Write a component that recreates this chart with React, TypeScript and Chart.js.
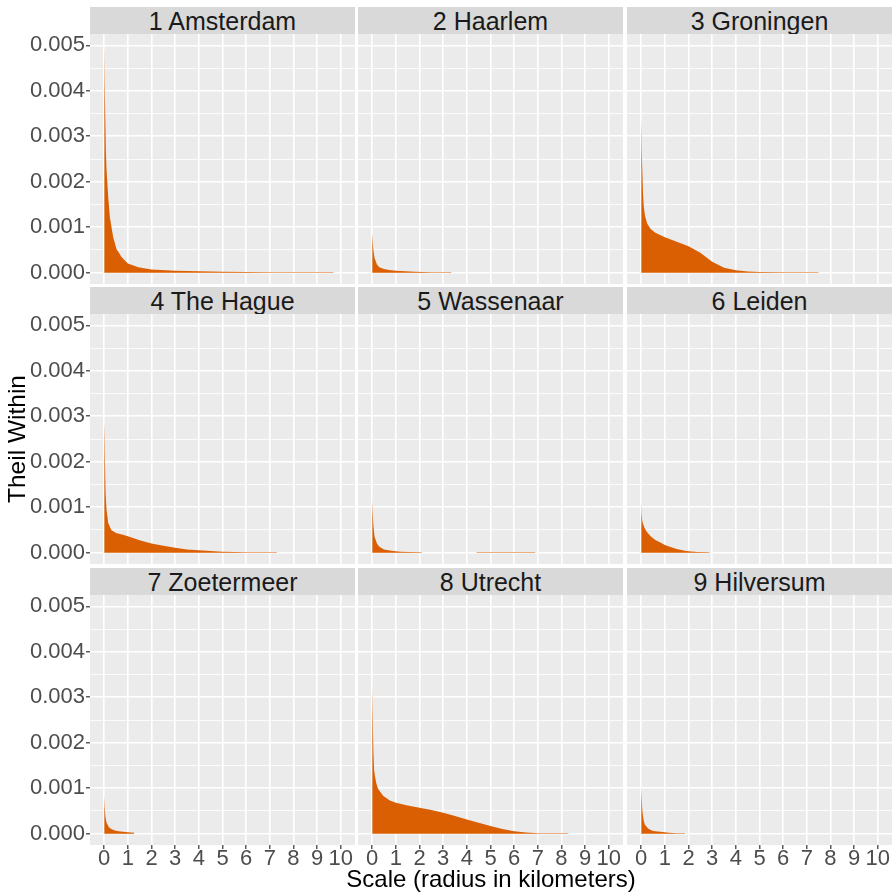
import React, { useEffect, useRef } from "react";
import { Chart, registerables } from "chart.js";

Chart.register(...registerables);

// ---------- data ----------
const cityNames = [
  "1 Amsterdam", "2 Haarlem", "3 Groningen",
  "4 The Hague", "5 Wassenaar", "6 Leiden",
  "7 Zoetermeer", "8 Utrecht", "9 Hilversum",
];

const xTicks = [0, 1, 2, 3, 4, 5, 6, 7, 8, 9, 10];
const yMajorTicks = [0, 0.001, 0.002, 0.003, 0.004, 0.005];
const yMinorTicks = [0.0005, 0.0015, 0.0025, 0.0035, 0.0045];

const amsterdamX = [0, 0.015, 0.03, 0.05, 0.07, 0.1, 0.17, 0.24, 0.38, 0.52, 0.74, 1.0, 1.44, 2.0, 3.0, 4.0, 5.0, 6.0, 7.0, 8.0, 9.0, 9.7];
const amsterdamY = [0.005, 0.0047, 0.0041, 0.0033, 0.0027, 0.00225, 0.00166, 0.00122, 0.00078, 0.00052, 0.00034, 0.0002, 0.00012, 0.00007, 0.00004, 0.00003, 0.00002, 0.000015, 0.00001, 0.000009, 0.000008, 0.000008];

const haarlemX = [0, 0.02, 0.05, 0.1, 0.2, 0.3, 0.5, 0.7, 1.0, 1.4, 1.8, 2.5, 3.35];
const haarlemY = [0.00087, 0.0007, 0.0005, 0.00032, 0.00018, 0.00012, 0.00008, 0.00006, 0.00004, 0.00003, 0.00002, 0.00001, 0.000008];

const groningenX = [0, 0.015, 0.03, 0.05, 0.08, 0.11, 0.16, 0.25, 0.4, 0.6, 0.8, 1.0, 1.5, 2.0, 2.5, 3.0, 3.5, 4.0, 4.5, 5.0, 6.0, 7.0, 7.5];
const groningenY = [0.0034, 0.0033, 0.0027, 0.0022, 0.0017, 0.00145, 0.00125, 0.00108, 0.00096, 0.00088, 0.00083, 0.00078, 0.00068, 0.00058, 0.00044, 0.00024, 0.00011, 0.00005, 0.000025, 0.000015, 0.00001, 0.000008, 0.000008];

const theHagueX = [0, 0.015, 0.035, 0.06, 0.1, 0.17, 0.3, 0.5, 0.75, 1.0, 1.5, 2.0, 2.5, 3.0, 3.5, 4.0, 5.0, 6.0, 7.3];
const theHagueY = [0.00287, 0.0026, 0.0019, 0.0013, 0.00094, 0.00065, 0.0005, 0.00043, 0.0004, 0.00036, 0.00027, 0.0002, 0.00015, 0.00011, 0.00007, 0.00005, 0.00002, 0.00001, 0.000008];

const wassenaarX = [0, 0.02, 0.05, 0.1, 0.2, 0.3, 0.5, 0.8, 1.2, 1.5, 2.1, 3.2, 4.4, 5.5, 6.9];
const wassenaarY = [0.00116, 0.0009, 0.0006, 0.00035, 0.0002, 0.00013, 0.00007, 0.00004, 0.00002, 0.000012, 0.000008, null, 0.000008, 0.000008, 0.000008];

const leidenX = [0, 0.02, 0.05, 0.14, 0.25, 0.42, 0.6, 0.85, 1.0, 1.27, 1.5, 1.84, 2.1, 2.4, 2.9];
const leidenY = [0.0011, 0.00085, 0.00068, 0.00054, 0.00045, 0.00035, 0.00028, 0.00021, 0.00017, 0.00012, 0.00008, 0.00004, 0.000025, 0.000015, 0.000008];

const zoetermeerX = [0, 0.02, 0.05, 0.1, 0.2, 0.3, 0.45, 0.6, 0.8, 1.0, 1.27];
const zoetermeerY = [0.00084, 0.0006, 0.00038, 0.00024, 0.00014, 0.0001, 0.00007, 0.00005, 0.00004, 0.00003, 0.00002];

const utrechtX = [0, 0.015, 0.03, 0.05, 0.08, 0.12, 0.18, 0.25, 0.47, 0.75, 1.0, 1.5, 2.0, 2.5, 3.0, 3.5, 4.0, 4.5, 5.0, 5.5, 6.0, 6.5, 7.0, 7.5, 8.3];
const utrechtY = [0.00323, 0.0031, 0.0026, 0.0018, 0.0014, 0.00125, 0.0011, 0.00098, 0.00083, 0.00073, 0.00068, 0.00062, 0.00057, 0.00052, 0.00046, 0.00039, 0.00031, 0.00024, 0.00017, 0.0001, 0.00005, 0.000025, 0.00001, 0.000008, 0.000008];

const hilversumX = [0, 0.02, 0.05, 0.1, 0.15, 0.3, 0.5, 0.8, 1.17, 1.5, 1.85];
const hilversumY = [0.00105, 0.0008, 0.0005, 0.0003, 0.0002, 0.00011, 0.00006, 0.00004, 0.00002, 0.00001, 0.000008];

const seriesX = [amsterdamX, haarlemX, groningenX, theHagueX, wassenaarX, leidenX, zoetermeerX, utrechtX, hilversumX];
const seriesY = [amsterdamY, haarlemY, groningenY, theHagueY, wassenaarY, leidenY, zoetermeerY, utrechtY, hilversumY];

const xTitle = "Scale (radius in kilometers)";
const yTitle = "Theil Within";

// ---------- layout / style ----------
const FONT = "'Liberation Sans', Arial, Helvetica, sans-serif";
const COL_LEFT = [90, 358, 627];
const PANEL_W = 265;
const STRIP_TOP = [7, 287, 568];
const STRIP_H = 27;
const PANEL_H = 250;
const AREA_COLOR = "#D95F02";

const isMajorY = (v: number) => Math.abs(v * 1000 - Math.round(v * 1000)) < 1e-6;

const panelBg = {
  id: "panelBg",
  beforeDraw(chart: any) {
    const { ctx, chartArea: a } = chart;
    ctx.save();
    ctx.fillStyle = "#EBEBEB";
    ctx.fillRect(a.left, a.top, a.right - a.left, a.bottom - a.top);
    ctx.restore();
  },
};

function Panel({ idx }: { idx: number }) {
  const ref = useRef<HTMLCanvasElement>(null);
  const col = idx % 3;
  const row = Math.floor(idx / 3);
  const L = COL_LEFT[col];
  const T = STRIP_TOP[row] + STRIP_H;
  const M = 12;
  const firstCol = col === 0;
  const lastRow = row === 2;
  const yW = firstCol ? L : 0;
  const padL = firstCol ? 0 : M;
  const padR = col === 2 ? 2 : M;
  const padT = M;
  const xH = lastRow ? 34 : 0;
  const padB = lastRow ? 0 : M;
  const cLeft = L - yW - padL;
  const cTop = T - padT;
  const cW = yW + padL + PANEL_W + padR;
  const cH = padT + PANEL_H + xH + padB;

  useEffect(() => {
    if (!ref.current) return;
    const xs = seriesX[idx];
    const ys = seriesY[idx];
    const data = xs.map((x, i) => ({ x, y: ys[i] }));
    const chart = new Chart(ref.current, {
      type: "line",
      data: {
        datasets: [
          {
            data,
            fill: "origin",
            backgroundColor: AREA_COLOR,
            borderColor: "rgba(0,0,0,0)",
            borderWidth: 0,
            pointRadius: 0,
            tension: 0,
            spanGaps: false,
          } as any,
        ],
      },
      options: {
        animation: false,
        responsive: true,
        maintainAspectRatio: false,
        devicePixelRatio: 1,
        layout: { padding: { left: padL, right: padR, top: padT, bottom: padB } },
        plugins: { legend: { display: false }, tooltip: { enabled: false }, title: { display: false } },
        events: [],
        scales: {
          x: {
            type: "linear",
            min: -0.6,
            max: 10.6,
            afterBuildTicks: (s: any) => {
              s.ticks = xTicks.map((v) => ({ value: v }));
            },
            afterFit: (s: any) => {
              s.height = xH;
              s.paddingLeft = 0; s.paddingRight = 0; s.paddingTop = 0; s.paddingBottom = 0;
            },
            grid: {
              color: "#FFFFFF",
              lineWidth: 1.6,
              drawTicks: lastRow,
              tickLength: 4,
              tickColor: "#333333",
              tickWidth: 1.2,
            },
            border: { display: false },
            ticks: {
              display: lastRow,
              autoSkip: false,
              maxRotation: 0,
              minRotation: 0,
              padding: 0,
              color: "#4D4D4D",
              font: { family: FONT, size: 22, lineHeight: 0.9 },
              callback: (v: any) => String(v),
            },
          },
          y: {
            type: "linear",
            min: -0.00025,
            max: 0.00525,
            afterBuildTicks: (s: any) => {
              s.ticks = [...yMajorTicks, ...yMinorTicks].sort((a, b) => a - b).map((v) => ({ value: v }));
            },
            afterFit: (s: any) => {
              s.width = yW;
              s.paddingLeft = 0; s.paddingRight = 0; s.paddingTop = 0; s.paddingBottom = 0;
            },
            grid: {
              color: "#FFFFFF",
              lineWidth: (c: any) => (c.tick && !isMajorY(c.tick.value) ? 0.8 : 1.6),
              drawTicks: firstCol,
              tickLength: 4,
              tickColor: (c: any) => (c.tick && !isMajorY(c.tick.value) ? "rgba(0,0,0,0)" : "#333333"),
              tickWidth: 1.2,
            },
            border: { display: false },
            ticks: {
              display: firstCol,
              autoSkip: false,
              padding: 1,
              color: "#4D4D4D",
              font: { family: FONT, size: 22 },
              callback: (v: any) => (isMajorY(Number(v)) ? Number(v).toFixed(3) : ""),
            },
            title: {
              display: firstCol && row === 1,
              text: yTitle,
              color: "#000000",
              font: { family: FONT, size: 24.5, lineHeight: 1.2 },
              padding: { top: 4, bottom: 0 },
            },
          },
        },
      } as any,
      plugins: [panelBg],
    });
    return () => chart.destroy();
  }, [idx]);

  return (
    <div style={{ position: "absolute", left: cLeft, top: cTop, width: cW, height: cH }}>
      <canvas ref={ref} />
    </div>
  );
}

function Strip({ idx }: { idx: number }) {
  const col = idx % 3;
  const row = Math.floor(idx / 3);
  return (
    <div
      style={{
        position: "absolute",
        left: COL_LEFT[col],
        top: STRIP_TOP[row],
        width: PANEL_W,
        height: STRIP_H,
        background: "#D9D9D9",
        color: "#1A1A1A",
        fontFamily: FONT,
        fontSize: 25,
        lineHeight: "29px",
        textAlign: "center",
        whiteSpace: "nowrap",
        overflow: "visible",
      }}
    >
      {cityNames[idx]}
    </div>
  );
}

export default function App() {
  return (
    <div
      style={{
        position: "absolute",
        left: 0,
        top: 0,
        width: 894,
        height: 893,
        overflow: "hidden",
        background: "#FFFFFF",
      }}
    >
      {cityNames.map((_, i) => (
        <Strip key={"s" + i} idx={i} />
      ))}
      {cityNames.map((_, i) => (
        <Panel key={"p" + i} idx={i} />
      ))}
      <div
        style={{
          position: "absolute",
          left: COL_LEFT[0],
          top: 864,
          width: COL_LEFT[2] + PANEL_W - COL_LEFT[0],
          height: 29,
          lineHeight: "29px",
          fontFamily: FONT,
          fontSize: 24,
          color: "#000000",
          textAlign: "center",
          whiteSpace: "nowrap",
        }}
      >
        {xTitle}
      </div>
    </div>
  );
}
